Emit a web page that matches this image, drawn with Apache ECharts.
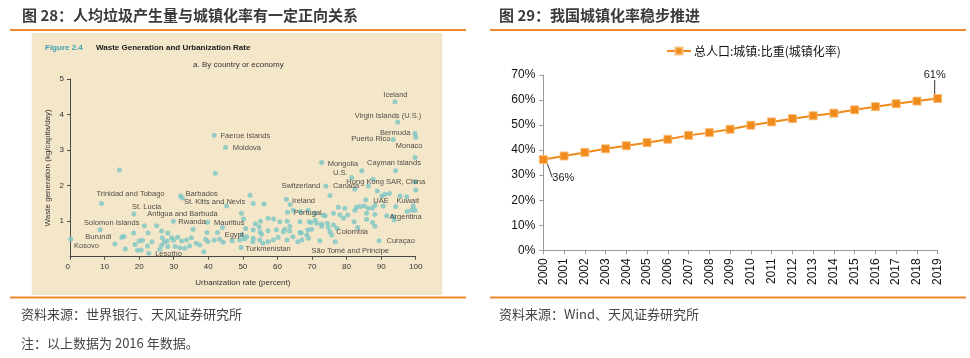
<!DOCTYPE html>
<html><head><meta charset="utf-8">
<script src="https://cdn.jsdelivr.net/npm/echarts@6/dist/echarts.min.js"></script>
<style>html,body{margin:0;padding:0;background:#fff}#c{width:970px;height:358px}</style>
</head><body><div id="c"></div>
<script>
// ---------- Right chart data ----------
const years = ['2000','2001','2002','2003','2004','2005','2006','2007','2008','2009','2010','2011','2012','2013','2014','2015','2016','2017','2018','2019'];
const urbanRate = [36.22,37.66,39.09,40.53,41.76,42.99,44.34,45.89,46.99,48.34,49.95,51.27,52.57,53.73,54.77,56.10,57.35,58.52,59.58,60.60];
const rateLegend = '总人口:城镇:比重(城镇化率)';
const rateLabels = {0:'36%', 19:'61%'};

// ---------- Left chart data (urbanization %, kg/capita/day) ----------
const wastePoints = [
 [0.2,0.50],[9.1,1.50],[14.3,2.44],[18.5,1.20],[8.7,0.76],[13.0,0.36],[15.0,0.55],[15.6,0.57],[16.0,0.22],[18.4,0.67],
 [18.8,0.34],[19.5,0.18],[20.6,0.19],[20.0,0.44],[21.0,0.46],[21.5,0.87],[22.6,0.67],[22.4,0.30],[22.8,0.10],[23.7,0.42],
 [25.1,0.87],[26.5,0.72],[28.3,0.67],[26.7,0.53],[27.3,0.42],[28.1,0.44],[29.4,0.53],[29.9,0.46],[26.5,0.32],[28.3,0.29],
 [30.4,0.29],[31.8,0.25],[26.0,0.21],[29.9,1.00],[32.0,1.71],[32.5,1.65],[32.3,0.44],[31.1,0.55],
 [33.2,0.24],[34.6,0.30],[33.7,0.47],[35.1,0.53],[35.6,0.77],[36.5,0.38],[37.5,0.33],[38.7,0.14],[39.2,0.49],[39.9,0.43],
 [39.6,0.68],[39.8,0.97],[41.7,0.46],[42.0,2.35],[41.7,3.42],[45.0,3.07],[42.7,0.68],[43.3,0.49],[44.1,0.82],[44.3,0.41],
 [45.3,1.43],[46.9,0.45],[49.1,0.47],[49.5,0.26],[49.6,1.22],[50.2,1.06],[50.5,0.50],[50.8,0.79],[49.7,0.61],[51.1,0.56],
 [52.1,1.73],[53.0,1.50],[52.9,0.42],[53.0,0.52],[53.0,0.75],[53.6,0.93],[54.7,0.84],[55.1,1.00],[55.0,0.70],[54.9,0.47],
 [55.4,0.63],[55.8,0.38],[56.1,1.48],[57.3,1.08],[57.3,0.73],[57.3,0.42],[58.9,1.06],[58.8,0.47],[59.7,0.76],[60.2,0.55],
 [60.7,0.98],[61.7,0.70],[62.6,1.62],[62.8,1.00],[62.9,1.25],[62.1,0.77],[62.8,0.47],[63.5,0.72],[63.6,0.86],[63.7,1.47],
 [64.5,0.56],[64.6,1.31],[65.9,0.42],[66.5,0.98],[66.5,0.68],[66.7,1.27],[66.9,0.67],[67.1,0.47],[68.5,0.61],[68.8,0.75],
 [68.9,1.31],[69.0,0.52],[69.2,0.98],[69.7,0.96],
 [94.0,4.36],[94.8,3.79],[99.8,3.47],[100,3.36],[93.5,3.30],[99.8,2.79],[94.2,2.42],[72.8,2.65],[84.4,2.42],[81.5,2.23],
 [74.0,1.99],[82.4,1.90],[86.3,1.99],[87.7,2.18],[88.9,1.85],[91.1,1.76],[95.5,1.71],[97.4,1.69],[99.8,2.11],[75.2,1.72],
 [85.6,1.60],[90.2,1.71],[92.4,1.78],[100,1.88],[88.2,1.45],[90.6,1.43],[94.2,1.41],[99.3,1.43],[99.8,1.31],[98.8,1.31],
 [97.5,1.27],[77.6,1.39],[79.5,1.36],[82.9,1.39],[83.9,1.41],[85.1,1.43],[86.3,1.36],[87.5,1.36],[76.2,1.22],[78.1,1.17],
 [80.3,1.17],[82.4,1.31],[85.8,1.22],[88.2,1.19],[91.6,1.15],[93.5,1.13],[79.1,1.08],[73.8,1.15],[70.9,1.03],[70.9,1.22],
 [73.3,1.17],[82.2,0.98],[85.8,1.05],[87.5,0.96],[88.2,0.86],[93.8,1.03],[72.8,0.86],[74.7,0.82],[76.2,0.89],[77.2,0.80],
 [83.2,0.82],[69.9,0.77],[71.4,0.94],[72.8,0.92],[74.4,0.94],[75.2,0.70],[75.7,0.61],[72.3,0.45],[76.7,0.42],[89.4,0.45]
];
// country name labels, anchored (left edge) in data units
const countryLabels = [
 ['Iceland',90.5,4.55],['Virgin Islands (U.S.)',82.2,3.97],['Bermuda',89.5,3.49],['Puerto Rico',81.2,3.31],['Monaco',94.1,3.11],
 ['Mongolia',74.4,2.60],['U.S.',75.9,2.36],['Cayman Islands',85.8,2.65],['Faeroe Islands',43.4,3.40],['Moldova',46.9,3.05],
 ['Trinidad and Tobago',7.5,1.76],['Barbados',33.3,1.78],['St. Kitts and Nevis',32.8,1.54],['St. Lucia',17.8,1.41],
 ['Antigua and Barbuda',22.2,1.19],['Solomon Islands',3.9,0.94],['Rwanda',31.2,0.99],['Mauritius',41.5,0.94],
 ['Burundi',4.3,0.55],['Egypt',44.6,0.61],['Kosovo',1.0,0.31],['Lesotho',24.5,0.07],['Turkmenistan',50.6,0.22],
 ['Switzerland',61.0,2.00],['Canada',75.9,2.00],['Hong Kong SAR, China',79.8,2.09],['Ireland',64.1,1.58],['Portugal',64.6,1.22],
 ['UAE',87.6,1.58],['Kuwait',94.3,1.58],['Argentina',92.3,1.13],['Colombia',76.9,0.70],['Curaçao',91.4,0.44],
 ['São Tomé and Principe',69.7,0.15]
];

const latin = "'Liberation Sans', Arial, 'Noto Sans CJK SC', sans-serif";
const cjk = "'Noto Sans CJK SC', 'Liberation Sans', sans-serif";
const orange = '#EE8A2C';
const teal = '#7CC6C5';

const chart = echarts.init(document.getElementById('c'), null, {renderer:'canvas'});

function txt(x, y, text, font, fill, align) {
  return {type:'text', x:x, y:y, z:50, style:{text:text, font:font, fill:fill, align:align||'left', verticalAlign:'middle'}};
}

chart.setOption({
  animation:false,
  textStyle:{fontFamily:latin},
  graphic:[
    {type:'rect', shape:{x:31.7,y:33,width:410.6,height:262}, style:{fill:'#F4E6C9'}, z:-100},
    {type:'line', shape:{x1:10,y1:30,x2:466,y2:30}, style:{stroke:orange,lineWidth:1.8}, z:50},
    {type:'line', shape:{x1:490,y1:30,x2:966,y2:30}, style:{stroke:orange,lineWidth:1.8}, z:50},
    {type:'line', shape:{x1:10,y1:297.5,x2:466,y2:297.5}, style:{stroke:orange,lineWidth:1.8}, z:50},
    {type:'line', shape:{x1:490,y1:297.5,x2:966,y2:297.5}, style:{stroke:orange,lineWidth:1.8}, z:50},
    txt(22,15,'图 28：人均垃圾产生量与城镇化率有一定正向关系','bold 15px '+cjk,'#3a3a3a'),
    txt(499,15,'图 29：我国城镇化率稳步推进','bold 15px '+cjk,'#3a3a3a'),
    txt(21,314,'资料来源：世界银行、天风证券研究所','13px '+cjk,'#444'),
    txt(21,343,'注：以上数据为 2016 年数据。','13px '+cjk,'#444'),
    txt(499,314,'资料来源：Wind、天风证券研究所','13px '+cjk,'#444'),
    txt(45,48,'Figure 2.4','bold 8px '+latin,'#3E9FB0'),
    txt(96,48,'Waste Generation and Urbanization Rate','bold 8px '+latin,'#1a1a1a'),
    txt(193,65,'a. By country or economy','8px '+latin,'#333')
  ],
  legend:{
    data:[rateLegend], left:666, top:45, padding:0, itemWidth:24, itemHeight:9, itemGap:4,
    textStyle:{fontFamily:cjk, fontSize:12, color:'#111', padding:[0,0,0,-2]}
  },
  grid:[
    {left:70, right:554.3, top:79, bottom:101.3, containLabel:false},
    {left:543.3, right:32.3, top:75, bottom:107.7, containLabel:false}
  ],
  xAxis:[
    {gridIndex:0, type:'value', min:0, max:100, interval:10,
     name:'Urbanization rate (percent)', nameLocation:'middle', nameGap:22,
     nameTextStyle:{fontSize:8, color:'#333', fontFamily:latin},
     axisLine:{lineStyle:{color:'#4a4a4a',width:1}},
     axisTick:{show:true,length:3,lineStyle:{color:'#4a4a4a'}},
     axisLabel:{fontSize:8,color:'#333',margin:6, alignMinLabel:'right'},
     splitLine:{show:false}},
    {gridIndex:1, type:'category', data:years, boundaryGap:false,
     axisLine:{lineStyle:{color:'#9a9a9a',width:1}},
     axisTick:{show:true,length:4,interval:0,lineStyle:{color:'#9a9a9a'}},
     axisLabel:{rotate:90, interval:0, fontSize:12, color:'#111', margin:8, fontFamily:latin},
     splitLine:{show:false}}
  ],
  yAxis:[
    {gridIndex:0, type:'value', min:0, max:5, interval:1,
     name:'Waste generation (kg/capita/day)', nameLocation:'middle', nameGap:18, nameRotate:90,
     nameTextStyle:{fontSize:8, color:'#333', fontFamily:latin},
     axisLine:{show:true,lineStyle:{color:'#4a4a4a',width:1}},
     axisTick:{show:true,length:3,lineStyle:{color:'#4a4a4a'}},
     axisLabel:{fontSize:8,color:'#333',margin:6,showMinLabel:false},
     splitLine:{show:false}},
    {gridIndex:1, type:'value', min:0, max:70, interval:10,
     axisLine:{show:true,lineStyle:{color:'#9a9a9a',width:1}},
     axisTick:{show:true,length:4,lineStyle:{color:'#9a9a9a'}},
     axisLabel:{formatter:'{value}%', fontSize:12, color:'#111', margin:8, fontFamily:latin},
     splitLine:{show:false}}
  ],
  series:[
    {type:'scatter', xAxisIndex:0, yAxisIndex:0, data:wastePoints, symbolSize:5,
     itemStyle:{color:teal}, z:3, silent:true},
    {type:'scatter', xAxisIndex:0, yAxisIndex:0, symbolSize:1,
     data:countryLabels.map(d=>({name:d[0], value:[d[1],d[2]]})),
     itemStyle:{color:'rgba(0,0,0,0)'}, z:4, silent:true,
     label:{show:true, position:'right', distance:0, formatter:'{b}', fontSize:7.5, color:'#262626', fontFamily:latin}},
    {type:'line', name:rateLegend, xAxisIndex:1, yAxisIndex:1,
     data:urbanRate.map((v,i)=> rateLabels[i] ? {value:v, label:{show:true, formatter:rateLabels[i]}, labelLine:{show:true}} : v),
     symbol:'rect', symbolSize:8, showAllSymbol:true,
     lineStyle:{color:'#F08A1A', width:2},
     itemStyle:{color:'#F08A1A', borderColor:'rgba(248,190,120,0.9)', borderWidth:1},
     label:{show:false, fontSize:11, color:'#222', fontFamily:latin},
     labelLine:{show:true, lineStyle:{color:'#333', width:1}},
     labelLayout:function(p){
       if(p.dataIndex===0) return {dx:20, dy:33};
       if(p.dataIndex===19) return {dx:-3, dy:-9};
       return {};
     }}
  ]
});
</script></body></html>
